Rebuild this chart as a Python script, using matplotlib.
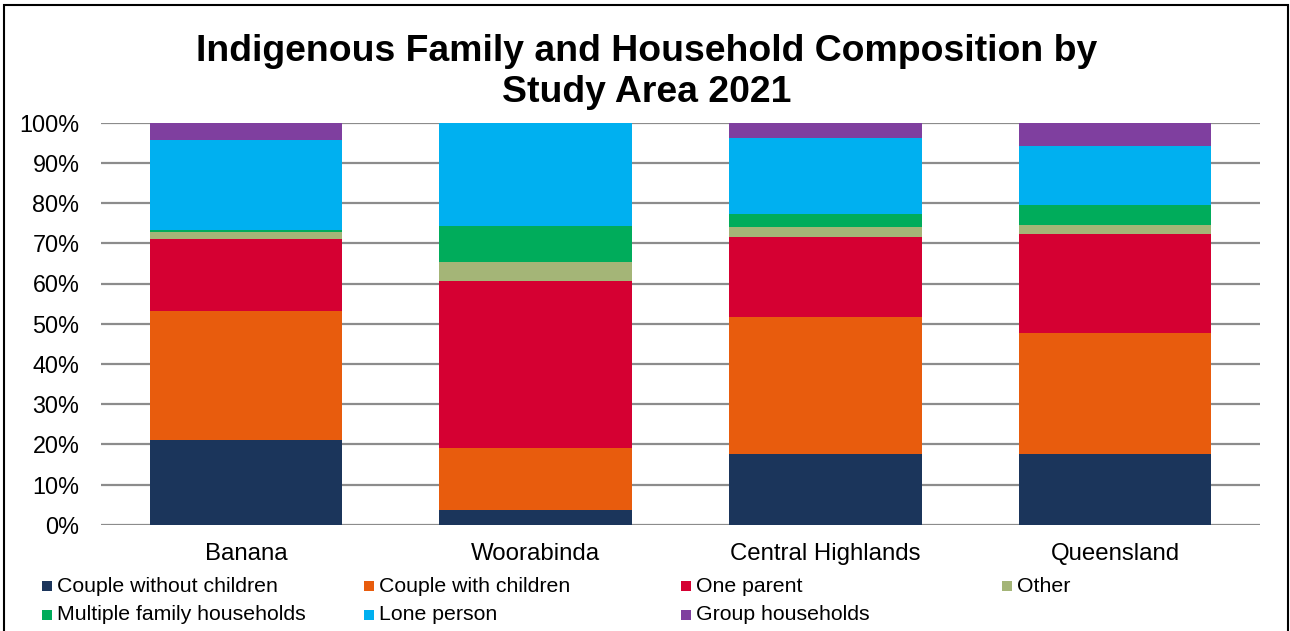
import matplotlib
matplotlib.use("Agg")
import matplotlib.pyplot as plt
from matplotlib.patches import Rectangle
import numpy as np

plt.rcParams['font.family'] = ['Liberation Sans', 'DejaVu Sans']

areas = ["Banana", "Woorabinda", "Central Highlands", "Queensland"]
series = ["Couple without children", "Couple with children", "One parent", "Other",
          "Multiple family households", "Lone person", "Group households"]

couple_no_children = [21.1, 3.6, 17.6, 17.7]
couple_with_children = [32.0, 15.5, 34.0, 29.9]
one_parent = [18.0, 41.4, 19.9, 24.8]
other = [1.6, 4.8, 2.6, 2.1]
multiple_family = [0.7, 9.1, 3.3, 5.1]
lone_person = [22.3, 25.6, 18.7, 14.7]
group_households = [4.3, 0.0, 3.9, 5.7]

colors = ["#1b355b", "#e85c0d", "#d50032", "#a4b577", "#00ac5b", "#00b0f0", "#7f3f9f"]

values = [couple_no_children, couple_with_children, one_parent, other,
          multiple_family, lone_person, group_households]

fig = plt.figure(figsize=(12.9, 6.31), dpi=100)
W, H = 1290, 631
ax = fig.add_axes([101 / W, 1 - 524.7 / H, (1260 - 101) / W, (524.7 - 122.7) / H])

x = np.arange(len(areas))
data = np.array(values, dtype=float)
shares = data / data.sum(axis=0)
bottom = np.zeros(len(areas))
for share, col in zip(shares, colors):
    ax.bar(x, share, 0.665, bottom=bottom, color=col, zorder=3)
    bottom += share

ax.set_xlim(-0.5, len(areas) - 0.5)
ax.set_ylim(0, 1)
ax.set_yticks(np.arange(0, 1.01, 0.1))
ax.set_yticklabels([f"{int(round(t * 100))}%" for t in np.arange(0, 1.01, 0.1)], fontsize=16.8)
ax.yaxis.grid(True, color="#8c8c8c", linewidth=1.6, zorder=0)
ax.set_axisbelow(True)
for s in ax.spines.values():
    s.set_visible(False)
ax.tick_params(axis="both", length=0)
ax.tick_params(axis="y", pad=15.5)
ax.tick_params(axis="x", pad=13)
ax.set_xticks(x)
ax.set_xticklabels(areas, fontsize=17.3)

fig.text(647 / W, 1 - 72 / H, "Indigenous Family and Household Composition by\nStudy Area 2021",
         ha="center", va="center", fontsize=26.9, fontweight="bold", linespacing=1.24)

# legend laid out in a 4-column grid
col_x = [42, 364, 681, 1002]
row_y = [586, 615]
for i, (name, col) in enumerate(zip(series, colors)):
    cx = col_x[i % 4]
    cy = row_y[i // 4]
    fig.patches.append(Rectangle((cx / W, 1 - (cy + 5) / H), 10 / W, 10 / H,
                                 transform=fig.transFigure, facecolor=col, edgecolor="none"))
    fig.text((cx + 15) / W, 1 - cy / H, name, ha="left", va="center", fontsize=15.3)

# outer frame
fig.patches.append(Rectangle((4 / W, -0.01), (1288 - 4) / W, 1 - 5 / H + 0.01,
                             transform=fig.transFigure, fill=False, edgecolor="black", linewidth=1.5))

fig.savefig("out.png", dpi=100)
